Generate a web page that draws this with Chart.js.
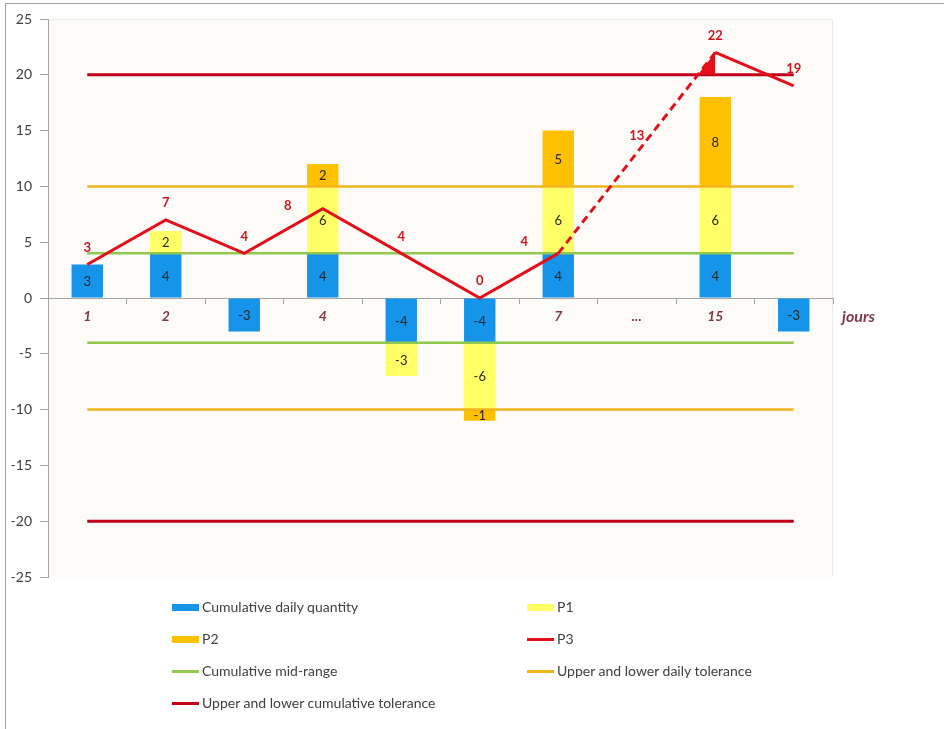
<!DOCTYPE html>
<html><head><meta charset="utf-8">
<script src="https://cdn.jsdelivr.net/npm/chart.js@4/dist/chart.umd.min.js"></script>
<style>
html,body{margin:0;padding:0;background:#fff;}
#wrap{position:relative;width:944px;height:729px;overflow:hidden;}
#frame{position:absolute;left:5px;top:3px;width:1000px;height:800px;border-left:1px solid #a0a0a0;border-top:1px solid #a0a0a0;}
#c{position:absolute;left:0;top:0;}
#legend{position:absolute;left:0;top:0;width:944px;height:729px;font-family:Lato,sans-serif;font-size:14px;color:#404040;pointer-events:none;}
.li{position:absolute;height:16px;line-height:16px;white-space:nowrap;}
.mk{position:absolute;left:0;width:27px;}
.tx{position:absolute;left:30px;top:0;}
</style></head>
<body>
<div id="wrap">
  <div id="frame"></div>
  <canvas id="c" width="944" height="729"></canvas>
  <div id="legend"></div>
</div>
<script>
// ---- data ----
const categories = ['1','2','3','4','5','6','7','...','15','16'];
const cumulativeDaily = [3, 4, -3, 4, -4, -4, 4, null, 4, -3];
const p1 = [null, 2, null, 6, -3, -6, 6, null, 6, null];
const p2 = [null, null, null, 2, null, -1, 5, null, 8, null];
const p3 = [3, 7, 4, 8, 4, 0, 4, 13, 22, 19];
const midRangeUpper = [4, 4, 4, 4, 4, 4, 4, 4, 4, 4];
const midRangeLower = [-4, -4, -4, -4, -4, -4, -4, -4, -4, -4];
const dailyTolUpper = [10, 10, 10, 10, 10, 10, 10, 10, 10, 10];
const dailyTolLower = [-10, -10, -10, -10, -10, -10, -10, -10, -10, -10];
const cumTolUpper = [20, 20, 20, 20, 20, 20, 20, 20, 20, 20];
const cumTolLower = [-20, -20, -20, -20, -20, -20, -20, -20, -20, -20];
const yTickValues = [-25, -20, -15, -10, -5, 0, 5, 10, 15, 20, 25];
const seriesNames = ['Cumulative daily quantity', 'P1', 'P2', 'P3', 'Cumulative mid-range',
  'Upper and lower daily tolerance', 'Upper and lower cumulative tolerance'];

// ---- styles ----
const BLUE = '#1594EA', YELLOW = '#FFFF66', ORANGE = '#FFC000';
const RED = '#E3101C', GREEN = '#92C850', GOLD = '#F0B41E', DARKRED = '#C0001A';
const AXIS = '#A6A6A6', CAT = '#7E3A46';
const FONT = 'Lato';

// filled triangle where P3 first exceeds the cumulative tolerance (before the peak)
const peakIdx = p3.indexOf(Math.max(...p3));
const tolAtPeak = cumTolUpper[peakIdx];
const prevIdx = peakIdx - 1;
const crossX = prevIdx + (tolAtPeak - p3[prevIdx]) / (p3[peakIdx] - p3[prevIdx]);
const exceedData = [{x: crossX, y: tolAtPeak}, {x: peakIdx, y: p3[peakIdx]}, {x: peakIdx, y: tolAtPeak}];

function hline(label, data, color, width, legend){
  return {type:'line', label, data, borderColor:color, backgroundColor:color, borderWidth:width,
    pointRadius:0, fill:false, order:2, stack:'h_'+label+data[0], legendShow:legend};
}

const datasets = [
  {type:'bar', label:seriesNames[0], data:cumulativeDaily, backgroundColor:BLUE, stack:'bars', order:3, legendShow:true, barLabels:true},
  {type:'bar', label:seriesNames[1], data:p1, backgroundColor:YELLOW, stack:'bars', order:3, legendShow:true, barLabels:true},
  {type:'bar', label:seriesNames[2], data:p2, backgroundColor:ORANGE, stack:'bars', order:3, legendShow:true, barLabels:true},
  {type:'line', label:seriesNames[3], data:p3, borderColor:RED, backgroundColor:RED, borderWidth:3,
    pointRadius:0, fill:false, order:0, stack:'p3', legendShow:true, pointLabels:true,
    segment:{borderDash: c => (c.p0DataIndex >= 6 && c.p1DataIndex <= 8) ? [8,5] : undefined}},
  hline(seriesNames[4], midRangeUpper, GREEN, 2.5, true),
  hline(seriesNames[5], dailyTolUpper, GOLD, 2.5, true),
  hline(seriesNames[6], cumTolUpper, DARKRED, 3, true),
  hline(seriesNames[4], midRangeLower, GREEN, 2.5, false),
  hline(seriesNames[5], dailyTolLower, GOLD, 2.5, false),
  hline(seriesNames[6], cumTolLower, DARKRED, 3, false),
  {type:'line', label:'exceed', data:exceedData, xAxisID:'xl', borderWidth:0, borderColor:RED,
    backgroundColor:RED, pointRadius:0, fill:{value:tolAtPeak}, order:1, stack:'ex', legendShow:false}
];

const p3LabelOffsets = {3:[-35,-3], 6:[-34,-12]};

const bgPlugin = {
  id:'plotBg',
  beforeDraw(chart){
    const {ctx, chartArea:a} = chart;
    ctx.save();
    ctx.fillStyle = '#FDFBF8';
    ctx.fillRect(a.left, a.top, a.right-a.left, a.bottom-a.top);
    ctx.strokeStyle = '#ECECEC'; ctx.lineWidth = 1;
    ctx.beginPath();
    ctx.moveTo(a.left, a.top+0.5); ctx.lineTo(a.right-0.5, a.top+0.5); ctx.lineTo(a.right-0.5, a.bottom);
    ctx.stroke();
    ctx.restore();
  }
};

const labelPlugin = {
  id:'valueLabels',
  afterDatasetsDraw(chart){
    const ctx = chart.ctx;
    ctx.save();
    ctx.textAlign = 'center'; ctx.textBaseline = 'middle';
    chart.data.datasets.forEach((ds, i) => {
      const meta = chart.getDatasetMeta(i);
      if (ds.barLabels){
        ctx.font = '13px ' + FONT; ctx.fillStyle = '#262626';
        meta.data.forEach((el, j) => {
          const v = ds.data[j]; if (v == null) return;
          ctx.fillText(String(v), el.x, (el.y + el.base)/2 + 1);
        });
      } else if (ds.pointLabels){
        ctx.font = 'bold 13px ' + FONT; ctx.fillStyle = '#D0141E';
        meta.data.forEach((el, j) => {
          const v = ds.data[j]; if (v == null) return;
          const off = p3LabelOffsets[j] || [0,-17];
          ctx.fillText(String(v), el.x + off[0], el.y + off[1]);
        });
      }
    });
    // axis title
    const a = chart.chartArea;
    ctx.font = 'italic bold 16px ' + FONT; ctx.fillStyle = CAT; ctx.textAlign = 'left';
    ctx.fillText('jours', a.right + 9, chart.scales.y.getPixelForValue(0) + 19);
    ctx.restore();
  }
};

const chart = new Chart(document.getElementById('c'), {
  data:{labels:categories, datasets},
  options:{
    responsive:false, animation:false, events:[],
    layout:{padding:{top:19, right:111, bottom:152, left:0}},
    plugins:{legend:{display:false}, tooltip:{enabled:false}},
    datasets:{bar:{categoryPercentage:1, barPercentage:0.4, grouped:false}},
    scales:{
      x:{type:'category', stacked:true, position:{y:0}, offset:true,
        grid:{drawOnChartArea:false, drawTicks:true, tickLength:5, color:AXIS, offset:true},
        border:{color:AXIS, width:1},
        ticks:{color:CAT, font:{family:FONT, size:14, style:'italic', weight:'bold'}, padding:5, maxRotation:0, autoSkip:false}},
      xl:{type:'linear', display:false, min:-0.5, max:categories.length-0.5},
      y:{type:'linear', stacked:true, min:yTickValues[0], max:yTickValues[yTickValues.length-1],
        afterFit(s){ s.width = 48; },
        afterBuildTicks(s){ s.ticks = yTickValues.map(v => ({value:v})); },
        grid:{drawOnChartArea:false, drawTicks:true, tickLength:8, color:AXIS},
        border:{color:AXIS, width:1},
        ticks:{color:'#404040', font:{family:FONT, size:14}, padding:8}}
    }
  },
  plugins:[bgPlugin, labelPlugin]
});

// ---- HTML legend built from the chart's datasets ----
const leg = document.getElementById('legend');
chart.data.datasets.filter(d => d.legendShow).forEach((d, i) => {
  const col = i % 2, row = Math.floor(i / 2);
  const item = document.createElement('div');
  item.className = 'li';
  item.style.left = (172 + col * 355) + 'px';
  item.style.top = (599 + row * 32) + 'px';
  const mk = document.createElement('div');
  mk.className = 'mk';
  if (d.type === 'bar'){ mk.style.top = '5px'; mk.style.height = '7px'; mk.style.background = d.backgroundColor; }
  else { mk.style.top = '7px'; mk.style.height = '3px'; mk.style.background = d.borderColor; }
  const tx = document.createElement('span');
  tx.className = 'tx'; tx.textContent = d.label;
  item.appendChild(mk); item.appendChild(tx);
  leg.appendChild(item);
});
</script>
</body></html>
